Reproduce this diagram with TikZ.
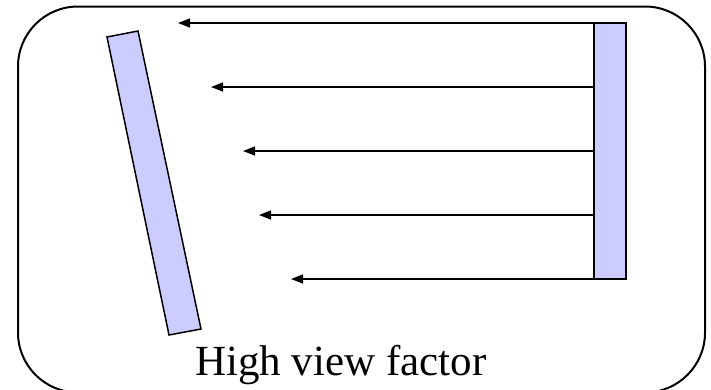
\documentclass[tikz,border=0pt]{standalone}
\usepackage{fontspec}
\setmainfont{Liberation Serif}
\usetikzlibrary{arrows.meta}
\definecolor{barfill}{HTML}{CCCCFF}
\begin{document}
\begin{tikzpicture}[x=1pt,y=-1pt,
  frame/.style={draw=black,line width=2pt,rounded corners=60pt},
  plate/.style={draw=black,line width=1.5pt,fill=barfill},
  ray/.style={draw=black,line width=1.5pt,-{Triangle[length=12pt,width=9pt]}},
  caption/.style={font=\fontsize{43}{50}\selectfont,inner sep=0pt,anchor=base west}]
\useasboundingbox (0,0) rectangle (711,389);
\begin{scope}
\clip (0,0) rectangle (711,389);
\draw[frame] (18,6.5) rectangle (705,392.5);
\end{scope}
% right plate
\draw[plate] (594,23) rectangle (626,279);
% tilted plate
\draw[plate] (107,37) -- (138,31) -- (201,329) -- (169,335) -- cycle;
% rays
\coordinate (s1) at (594,23);  \coordinate (t1) at (178,23);
\coordinate (s2) at (594,87);  \coordinate (t2) at (211,87);
\coordinate (s3) at (594,151); \coordinate (t3) at (243,151);
\coordinate (s4) at (594,215); \coordinate (t4) at (259,215);
\coordinate (s5) at (594,279); \coordinate (t5) at (291,279);
\foreach \i in {1,...,5} {\draw[ray] (s\i) -- (t\i);}
\node[caption] (cap) at (195,375) {High view factor};
\end{tikzpicture}
\end{document}
